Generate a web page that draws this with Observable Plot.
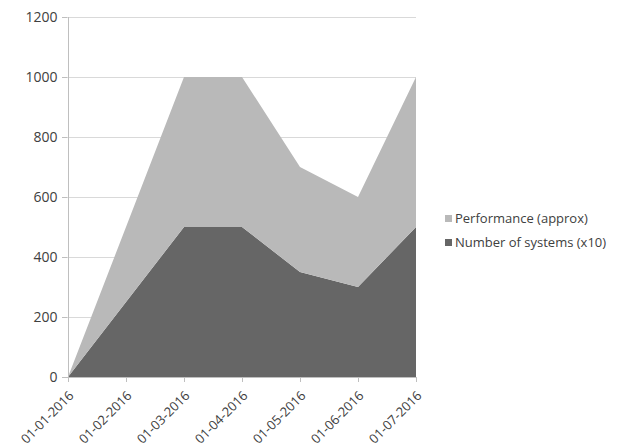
<!DOCTYPE html>
<html>
<head>
<meta charset="utf-8">
<script src="https://cdn.jsdelivr.net/npm/d3@7"></script>
<script src="https://cdn.jsdelivr.net/npm/@observablehq/plot@0.6"></script>
<style>
  html, body { margin: 0; padding: 0; background: #fff; }
  #wrap { position: relative; width: 621px; height: 447px; font-family: "Open Sans", sans-serif; }
  #legend { position: absolute; left: 445px; top: 206px; font-size: 13px; color: #404040; }
  #legend div { display: flex; align-items: center; height: 24px; }
  #legend span.sw { display: inline-block; width: 7px; height: 7px; margin-right: 3px; }
</style>
</head>
<body>
<div id="wrap"></div>
<script>
// Monthly readings, first of each month in 2016
const dates = ["01-01-2016", "01-02-2016", "01-03-2016", "01-04-2016", "01-05-2016", "01-06-2016", "01-07-2016"];
const systems = [0, 250, 500, 500, 350, 300, 500];        // Number of systems (x10)
const performance = [0, 250, 500, 500, 350, 300, 500];    // Performance (approx)
const seriesNames = ["Number of systems (x10)", "Performance (approx)"];
const seriesColors = ["#666666", "#b9b9b9"];
const yTicks = [0, 200, 400, 600, 800, 1000, 1200];

// Long-form table; systems first so it sits at the bottom of the stack
const rows = [
  ...dates.map((d, i) => ({date: d, series: seriesNames[0], value: systems[i]})),
  ...dates.map((d, i) => ({date: d, series: seriesNames[1], value: performance[i]}))
];

const chart = Plot.plot({
  width: 621,
  height: 447,
  marginLeft: 67,
  marginRight: 205,
  marginTop: 17,
  marginBottom: 70,
  style: {fontFamily: "Open Sans, sans-serif", fontSize: "14px", color: "#404040", background: "#fff"},
  x: {type: "point", domain: dates, padding: 0},
  y: {domain: [0, 1200]},
  color: {domain: seriesNames, range: seriesColors},
  marks: [
    Plot.ruleY(yTicks.filter(t => t > 0), {stroke: "#d9d9d9", strokeOpacity: 1}),
    Plot.areaY(rows, {x: "date", y: "value", fill: "series", order: seriesNames}),
    Plot.axisY({ticks: yTicks, tickFormat: d => String(d), tickSize: 5, tickPadding: 5, label: null, stroke: "#bfbfbf", fill: "#404040", fontSize: 14}),
    // tick marks under each date
    Plot.axisX({tickSize: 5, tickFormat: () => "", label: null, stroke: "#bfbfbf"}),
    // slanted date labels, nudged right of their ticks
    Plot.axisX({tickSize: 0, tickRotate: -45, tickPadding: 16, dx: 3, label: null, fill: "#404040", fontSize: 13}),
    Plot.ruleX([dates[0]], {stroke: "#bfbfbf"}),
    Plot.ruleY([0], {stroke: "#bfbfbf"})
  ]
});

const wrap = document.getElementById("wrap");
wrap.appendChild(chart);

// Legend, top entry is the upper layer
const legend = document.createElement("div");
legend.id = "legend";
for (const i of [1, 0]) {
  const row = document.createElement("div");
  const sw = document.createElement("span");
  sw.className = "sw";
  sw.style.background = seriesColors[i];
  row.appendChild(sw);
  row.appendChild(document.createTextNode(seriesNames[i]));
  legend.appendChild(row);
}
wrap.appendChild(legend);
</script>
</body>
</html>
